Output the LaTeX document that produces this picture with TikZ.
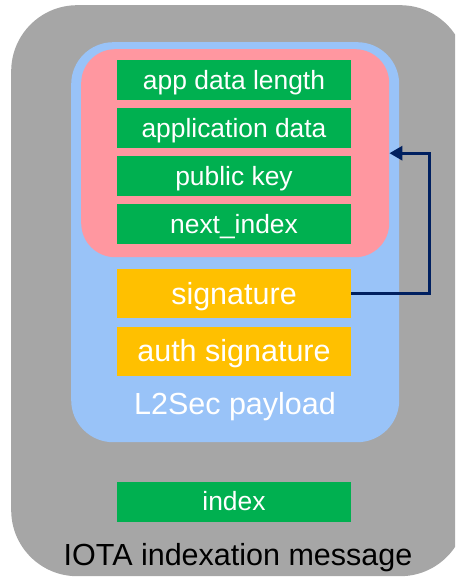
\documentclass[tikz,border=0pt]{standalone}
\usepackage{fontspec}
\setmainfont{Liberation Sans}
\usetikzlibrary{arrows.meta}
\definecolor{outergray}{HTML}{A6A6A6}
\definecolor{payblue}{HTML}{99C3F8}
\definecolor{pinkbox}{HTML}{FF97A0}
\definecolor{fieldgreen}{HTML}{00B050}
\definecolor{fieldyellow}{HTML}{FFC000}
\definecolor{navy}{HTML}{002060}
\tikzset{
  field/.style={minimum width=234pt, minimum height=40pt, inner sep=0pt, text=white},
  greenfield/.style={field, fill=fieldgreen, font=\fontsize{26.4}{30}\selectfont,
    text height=23.5pt, text depth=5.3pt},
  yellowfield/.style={field, fill=fieldyellow, minimum height=49pt, font=\fontsize{30.5}{34}\selectfont,
    text height=27.5pt, text depth=6.1pt},
  biglabel/.style={inner sep=0pt, text height=27.5pt, text depth=6.1pt, font=\fontsize{30.5}{34}\selectfont},
  container/.style={inner sep=0pt, anchor=north west},
}
\begin{document}
\begin{tikzpicture}[x=1pt,y=-1pt]
\useasboundingbox (0,0) rectangle (455,577);
\begin{scope}
\clip (0,0) rectangle (455,577);
\node[container, fill=outergray, rounded corners=66pt, minimum width=455pt, minimum height=571pt] (outer) at (11,5) {};
\end{scope}
\node[container, fill=payblue, rounded corners=42pt, minimum width=328pt, minimum height=400pt] (payload) at (71,42) {};
\node[container, fill=pinkbox, rounded corners=34pt, minimum width=308pt, minimum height=208pt] (pink) at (81,49) {};
\node[greenfield] (len) at (234,80) {app data length};
\node[greenfield] (app) at (234,128) {application data};
\node[greenfield] (pub) at (234,176) {public key};
\node[greenfield] (next) at (234,224) {next\_index};
\node[yellowfield] (sig) at (234,293.5) {signature};
\node[yellowfield] (auth) at (234,351) {auth signature};
\node[biglabel, text=white] (plabel) at (235,403.5) {L2Sec payload};
\node[greenfield] (idx) at (234,501.5) {index};
\node[biglabel, text=black] (olabel) at (238,555) {IOTA indexation message};
\coordinate (turn) at (429,293.5);
\draw[navy, line width=3pt, -{Triangle[length=13pt,width=14pt]}] (sig.east) -- (turn) |- (pink.east);
\end{tikzpicture}
\end{document}
